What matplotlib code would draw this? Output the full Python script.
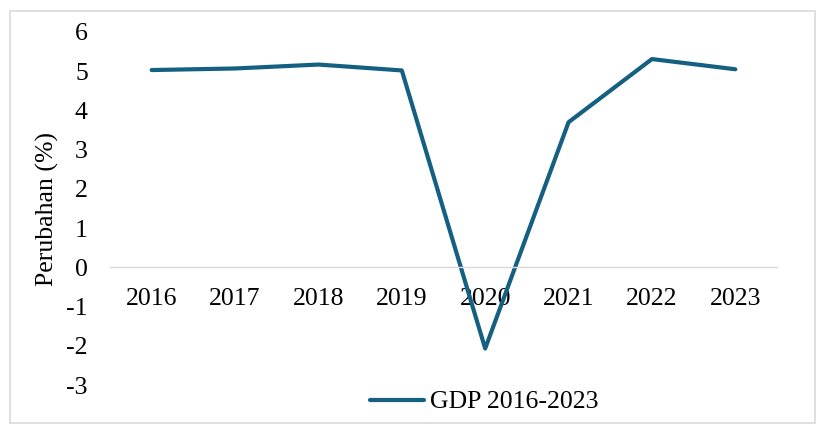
"""GDP change 2016-2023 line chart."""

import matplotlib

matplotlib.use("Agg")
import matplotlib.pyplot as plt
from matplotlib.patches import Rectangle

years = ["2016", "2017", "2018", "2019", "2020", "2021", "2022", "2023"]
gdp_change = [5.03, 5.07, 5.17, 5.02, -2.07, 3.70, 5.31, 5.05]
y_ticks = [-3, -2, -1, 0, 1, 2, 3, 4, 5, 6]

plt.rcParams["font.family"] = ["Liberation Serif", "DejaVu Serif"]

fig = plt.figure(figsize=(8.17, 4.25), dpi=100)
fig.patches.append(
    Rectangle((10 / 817, 2 / 425), 805 / 817, 412 / 425, transform=fig.transFigure,
              fill=False, edgecolor="#d9d9d9", linewidth=1.2)
)
ax = fig.add_axes([110 / 817, 40 / 425, 667 / 817, 353 / 425])

x = list(range(len(years)))
line, = ax.plot(x, gdp_change, color="#156082", linewidth=3.0,
                solid_capstyle="round", solid_joinstyle="round", label="GDP 2016-2023")

ax.set_xlim(-0.5, len(years) - 0.5)
ax.set_ylim(-3, 6)
ax.set_yticks(y_ticks)
ax.set_yticklabels([str(v) for v in y_ticks])
ax.set_xticks(x)
ax.set_xticklabels(years)

for side in ("left", "right", "top"):
    ax.spines[side].set_visible(False)
ax.spines["bottom"].set_position(("data", 0))
ax.spines["bottom"].set_color("#d9d9d9")
ax.spines["bottom"].set_linewidth(1.0)
ax.tick_params(axis="x", length=0, pad=15, labelsize=18.5)
ax.tick_params(axis="y", length=0, pad=16, labelsize=18.5)
ax.set_ylabel("Perubahan (%)", fontsize=18.5, labelpad=5)

fig.legend(handles=[line], loc="center", bbox_to_anchor=(484 / 817, 1 - 402 / 425),
           frameon=False, fontsize=18.5, handlelength=2.1, handletextpad=0.25)

fig.savefig("out.png", dpi=100)
